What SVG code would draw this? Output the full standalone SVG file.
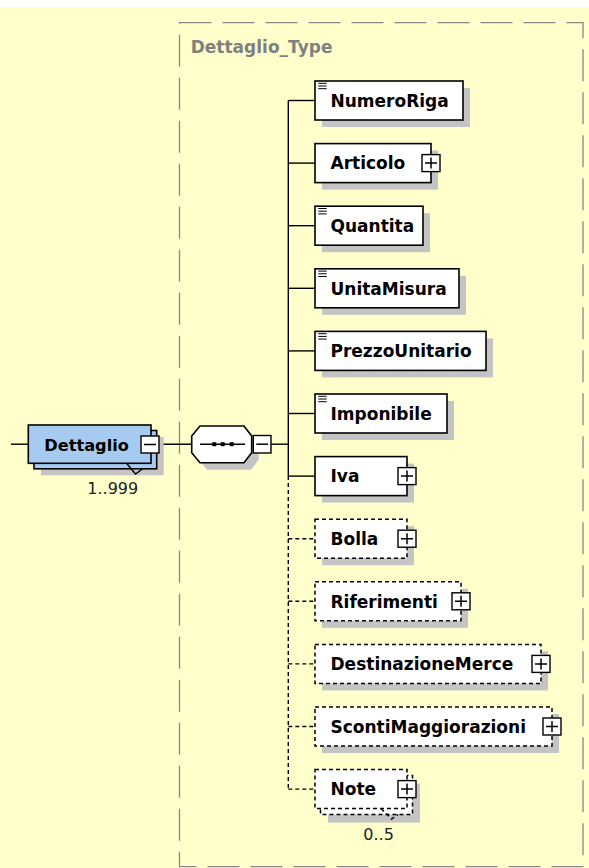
<svg xmlns="http://www.w3.org/2000/svg" width="589" height="868" viewBox="0 0 589 868">
<style>
.bg{fill:#FFFFCC}
.sh{fill:#C4C4C4}
.box{fill:#fff;stroke:#000;stroke-width:1.6}
.dbox{fill:#fff;stroke:#000;stroke-width:1.5;stroke-dasharray:4 3}
.blue{fill:#A6CAF0;stroke:#000;stroke-width:1.6}
.pm{fill:#fff;stroke:#000;stroke-width:1.4}
.sign{stroke:#000;stroke-width:1.5;fill:none}
.ic{stroke:#000;stroke-width:1;fill:none}
.t{font-family:"DejaVu Sans",Verdana,sans-serif;font-weight:bold;font-size:17px;fill:#000}
.n{font-family:"DejaVu Sans",Verdana,sans-serif;font-size:16px;fill:#222}
.c{stroke:#000;stroke-width:1.4;fill:none}
.dc{stroke:#000;stroke-width:1.4;fill:none;stroke-dasharray:4 3}
</style>
<rect class="bg" x="0" y="7" width="589" height="861"/>
<g id="Dettaglio_Type">
<rect x="179.5" y="22.7" width="403.5" height="844" fill="none" stroke="#888" stroke-width="1.3" stroke-dasharray="32 11"/>
<text x="190.7" y="53" class="t" style="fill:#808080">Dettaglio_Type</text>
</g>
<g id="connectors">
<line class="c" x1="11" y1="444.2" x2="28.3" y2="444.2"/>
<line class="c" x1="159" y1="444.2" x2="191.7" y2="444.2"/>
<line class="c" x1="271" y1="444.2" x2="288.3" y2="444.2"/>
<line class="c" x1="288.3" y1="100.5" x2="288.3" y2="476.1"/>
<line class="dc" x1="288.3" y1="476.1" x2="288.3" y2="789.1"/>
<line class="c" x1="288.3" y1="100.5" x2="315" y2="100.5"/>
<line class="c" x1="288.3" y1="163.1" x2="315" y2="163.1"/>
<line class="c" x1="288.3" y1="225.7" x2="315" y2="225.7"/>
<line class="c" x1="288.3" y1="288.3" x2="315" y2="288.3"/>
<line class="c" x1="288.3" y1="350.9" x2="315" y2="350.9"/>
<line class="c" x1="288.3" y1="413.5" x2="315" y2="413.5"/>
<line class="c" x1="288.3" y1="476.1" x2="315" y2="476.1"/>
<line class="dc" x1="288.3" y1="538.7" x2="315" y2="538.7"/>
<line class="dc" x1="288.3" y1="601.3" x2="315" y2="601.3"/>
<line class="dc" x1="288.3" y1="663.9" x2="315" y2="663.9"/>
<line class="dc" x1="288.3" y1="726.5" x2="315" y2="726.5"/>
<line class="dc" x1="288.3" y1="789.1" x2="315" y2="789.1"/>
</g>
<g id="Dettaglio">
<rect class="sh" x="41" y="437" width="122.7" height="38.3"/>
<rect class="blue" x="34" y="430.5" width="122.7" height="38.3"/>
<rect class="blue" x="28.3" y="425" width="122.7" height="38.3"/>
<text x="44.3" y="450.5" class="t" style="font-size:16.2px">Dettaglio</text>
<rect class="pm" x="141" y="436" width="18" height="17"/>
<line class="sign" x1="144" y1="444.5" x2="156" y2="444.5"/>
<polyline class="c" points="126.5,463.3 135.5,474 142.7,468.8"/>
<text x="87.3" y="494" class="n">1..999</text>
</g>
<g id="sequence">
<polygon class="sh" points="207,433 251,433 258.7,443 258.7,459.7 251,469.7 207,469.7 198.7,459.7 198.7,443"/>
<polygon class="box" points="200,426 244,426 251.7,436 251.7,452.7 244,462.7 200,462.7 191.7,452.7 191.7,436"/>
<line class="c" x1="200" y1="444.2" x2="245" y2="444.2"/>
<rect x="212.3" y="442.2" width="4" height="4"/>
<rect x="220.7" y="442.2" width="4" height="4"/>
<rect x="229.7" y="442.2" width="4" height="4"/>
<rect class="pm" x="253.3" y="435.5" width="17.7" height="17.5"/>
<line class="sign" x1="256.3" y1="444.2" x2="268" y2="444.2"/>
</g>
<g id="NumeroRiga">
<rect class="sh" x="322" y="88" width="148" height="39"/>
<rect class="box" x="315" y="81" width="148" height="39"/>
<path class="ic" d="M318.3 83.3h8.4M318.3 86h8.4M318.3 88.7h8.4"/>
<text x="330.5" y="106.8" class="t">NumeroRiga</text>
</g>
<g id="Articolo">
<rect class="sh" x="322" y="150.6" width="116" height="39"/>
<rect class="box" x="315" y="143.6" width="116" height="39"/>
<text x="330.5" y="169.4" class="t">Articolo</text>
<rect class="pm" x="422" y="154.6" width="18" height="17"/>
<path class="sign" d="M425 163.1h12M431 157.6v11"/>
</g>
<g id="Quantita">
<rect class="sh" x="322" y="213.2" width="108" height="39"/>
<rect class="box" x="315" y="206.2" width="108" height="39"/>
<path class="ic" d="M318.3 208.5h8.4M318.3 211.2h8.4M318.3 213.9h8.4"/>
<text x="330.5" y="232" class="t">Quantita</text>
</g>
<g id="UnitaMisura">
<rect class="sh" x="322" y="275.8" width="144" height="39"/>
<rect class="box" x="315" y="268.8" width="144" height="39"/>
<path class="ic" d="M318.3 271.1h8.4M318.3 273.8h8.4M318.3 276.5h8.4"/>
<text x="330.5" y="294.6" class="t">UnitaMisura</text>
</g>
<g id="PrezzoUnitario">
<rect class="sh" x="322" y="338.4" width="171" height="39"/>
<rect class="box" x="315" y="331.4" width="171" height="39"/>
<path class="ic" d="M318.3 333.7h8.4M318.3 336.4h8.4M318.3 339.1h8.4"/>
<text x="330.5" y="357.2" class="t">PrezzoUnitario</text>
</g>
<g id="Imponibile">
<rect class="sh" x="322" y="401" width="132" height="39"/>
<rect class="box" x="315" y="394" width="132" height="39"/>
<path class="ic" d="M318.3 396.3h8.4M318.3 399h8.4M318.3 401.7h8.4"/>
<text x="330.5" y="419.8" class="t">Imponibile</text>
</g>
<g id="Iva">
<rect class="sh" x="322" y="463.6" width="92" height="39"/>
<rect class="box" x="315" y="456.6" width="92" height="39"/>
<text x="330.5" y="482.4" class="t">Iva</text>
<rect class="pm" x="398" y="467.6" width="18" height="17"/>
<path class="sign" d="M401 476.1h12M407 470.6v11"/>
</g>
<g id="Bolla">
<rect class="sh" x="322" y="526.2" width="92" height="39"/>
<rect class="dbox" x="315" y="519.2" width="92" height="39"/>
<text x="330.5" y="545" class="t">Bolla</text>
<rect class="pm" x="398" y="530.2" width="18" height="17"/>
<path class="sign" d="M401 538.7h12M407 533.2v11"/>
</g>
<g id="Riferimenti">
<rect class="sh" x="322" y="588.8" width="146" height="39"/>
<rect class="dbox" x="315" y="581.8" width="146" height="39"/>
<text x="330.5" y="607.6" class="t">Riferimenti</text>
<rect class="pm" x="452" y="592.8" width="18" height="17"/>
<path class="sign" d="M455 601.3h12M461 595.8v11"/>
</g>
<g id="DestinazioneMerce">
<rect class="sh" x="322" y="651.4" width="226" height="39"/>
<rect class="dbox" x="315" y="644.4" width="226" height="39"/>
<text x="330.5" y="670.2" class="t">DestinazioneMerce</text>
<rect class="pm" x="532" y="655.4" width="18" height="17"/>
<path class="sign" d="M535 663.9h12M541 658.4v11"/>
</g>
<g id="ScontiMaggiorazioni">
<rect class="sh" x="322" y="714" width="237" height="39"/>
<rect class="dbox" x="315" y="707" width="237" height="39"/>
<text x="330.5" y="732.8" class="t">ScontiMaggiorazioni</text>
<rect class="pm" x="543" y="718" width="18" height="17"/>
<path class="sign" d="M546 726.5h12M552 721v11"/>
</g>
<g id="Note">
<rect class="sh" x="328" y="783.6" width="92" height="39"/>
<rect class="dbox" x="320.5" y="775.6" width="92" height="39"/>
<rect class="dbox" x="315" y="769.6" width="92" height="39"/>
<text x="330.5" y="795.4" class="t">Note</text>
<rect class="pm" x="398" y="780.6" width="18" height="17"/>
<path class="sign" d="M401 789.1h12M407 783.6v11"/>
<polyline class="dc" points="381,808.6 391.5,819 398,814.6"/>
<text x="363.3" y="840" class="n">0..5</text>
</g>
</svg>
